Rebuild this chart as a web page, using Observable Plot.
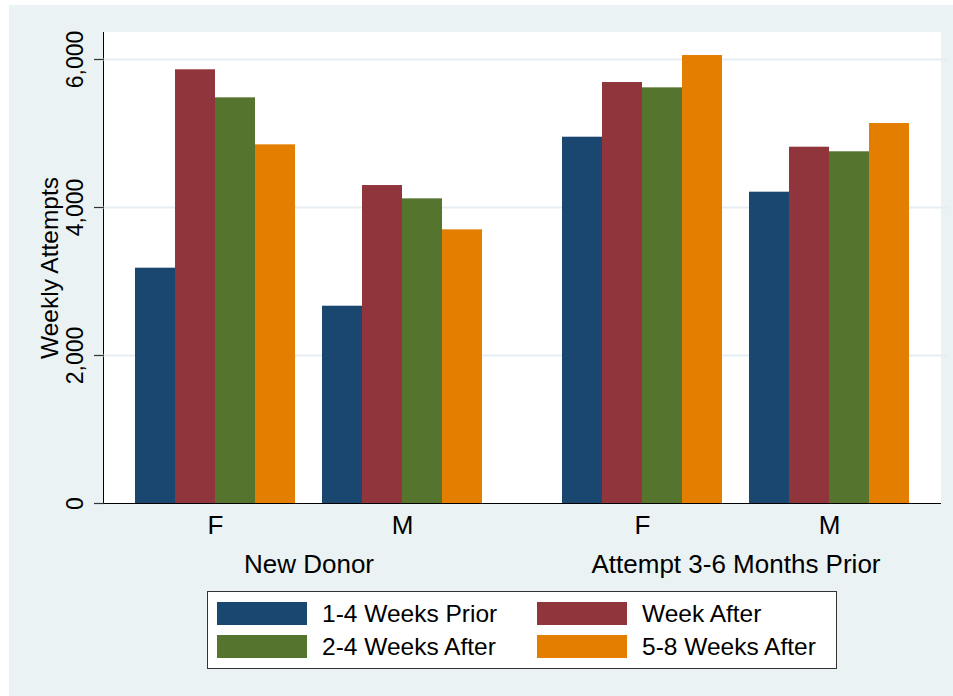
<!DOCTYPE html>
<html>
<head>
<meta charset="utf-8">
<script src="https://cdn.jsdelivr.net/npm/d3@7"></script>
<script src="https://cdn.jsdelivr.net/npm/@observablehq/plot@0.6"></script>
<style>
  body { margin: 0; background: #ffffff; font-family: "Liberation Sans", Arial, sans-serif; }
  #chart { position: relative; width: 953px; height: 696px; }
  #bg { position: absolute; left: 9px; top: 5px; right: 0; bottom: 0; background: #EAF2F3; }
  #plotbg { position: absolute; background: #ffffff; border-left: 1px solid #000; border-bottom: 1px solid #000; }
  #svgwrap { position: absolute; left: 0; top: 0; }
  #legend { position: absolute; background: #fff; border: 1.5px solid #333; box-sizing: border-box;
            display: grid; grid-template-columns: 90px 200px 90px auto; column-gap: 15px; row-gap: 10.5px;
            padding: 9.5px 9px; align-content: start; align-items: center; font-size: 24.5px; color: #000;
            white-space: nowrap; }
  .sw { width: 90px; height: 23px; }
</style>
</head>
<body>
<div id="chart">
  <div id="bg"></div>
  <div id="plotbg"></div>
  <div id="svgwrap"></div>
  <div id="legend"></div>
</div>
<script>
// ---- data ----
const groups = ["New Donor", "Attempt 3-6 Months Prior"];
const genders = ["F", "M"];
const series = ["1-4 Weeks Prior", "Week After", "2-4 Weeks After", "5-8 Weeks After"];
const seriesColors = ["#1A476F", "#90353B", "#55752F", "#E37E00"];
const newDonorF = [3180, 5861, 5482, 4847];
const newDonorM = [2666, 4297, 4117, 3698];
const priorF = [4950, 5689, 5617, 6054];
const priorM = [4207, 4815, 4753, 5135];
const yTicks = [0, 2000, 4000, 6000];
const gridTicks = [2000, 4000, 6000];
const yMax = 6365;
const yTitle = "Weekly Attempts";

const valueTable = [[newDonorF, newDonorM], [priorF, priorM]];
const rows = [];
groups.forEach((g, gi) => genders.forEach((s, si) => series.forEach((ser, k) => {
  rows.push({group: g, gender: s, series: ser, value: valueTable[gi][si][k]});
})));

// ---- layout ----
const W = 953, H = 585;
const mL = 104, mR = 13, mT = 32, mB = 82;
const facetGap = 18, groupGap = 27, outerGap = 31;
const plotW = W - mL - mR;                 // 836
const facetStep = (plotW + facetGap) / 2;  // 427
const facetW = facetStep - facetGap;       // 409
const bandW = (facetW - 2 * outerGap - groupGap) / 2; // 160
const xStep = bandW + groupGap;
const barW = bandW / series.length;

const plotbg = document.getElementById("plotbg");
plotbg.style.left = (mL - 1) + "px";
plotbg.style.top = mT + "px";
plotbg.style.width = plotW + 1 + "px";
plotbg.style.height = (H - mT - mB) + "px";

const font = "\"Liberation Sans\", Arial, sans-serif";

const bars = series.map((s, i) => Plot.barY(rows, {
  filter: d => d.series === s,
  fx: "group", x: "gender", y: "value", fill: "series",
  insetLeft: i * barW, insetRight: (series.length - 1 - i) * barW
}));

const chart = Plot.plot({
  width: W, height: H,
  marginLeft: mL, marginRight: mR, marginTop: mT, marginBottom: mB,
  style: {background: "transparent", fontFamily: font, color: "#000", overflow: "visible"},
  fx: {domain: groups, paddingInner: facetGap / facetStep, paddingOuter: 0, round: false, axis: null, label: null},
  x: {domain: genders, paddingInner: groupGap / xStep, paddingOuter: outerGap / xStep, round: false, axis: null, label: null},
  y: {domain: [0, yMax], axis: null},
  color: {domain: series, range: seriesColors},
  marks: [
    Plot.ruleY(gridTicks, {stroke: "#E6EEF1", strokeOpacity: 1, strokeWidth: 2, insetLeft: -facetGap / 2, insetRight: -facetGap / 2}),
    ...bars,
    Plot.axisY(yTicks, {
      tickFormat: d3.format(","), tickRotate: -90, tickSize: 10, tickPadding: 11.5,
      fontSize: 23, stroke: "#333", strokeWidth: 1.2, label: null
    }),
    Plot.axisY([], {
      tickSize: 0, fontSize: 24.5,
      label: yTitle, labelAnchor: "center", labelArrow: "none", labelOffset: 64
    }),
    Plot.axisX({tickSize: 0, tickPadding: 12.5, fontSize: 26, label: null}),
    Plot.axisFx({anchor: "bottom", tickSize: 0, tickPadding: 51.5, fontSize: 26, label: null})
  ]
});
document.getElementById("svgwrap").appendChild(chart);

// ---- legend ----
const color = chart.scale("color");
const legend = document.getElementById("legend");
legend.style.left = "207px";
legend.style.top = "591px";
legend.style.width = "630px";
legend.style.height = "78px";
series.forEach((s, i) => {
  const sw = document.createElement("div");
  sw.className = "sw";
  sw.style.background = color.apply(s);
  const tx = document.createElement("div");
  tx.textContent = s;
  tx.style.lineHeight = "23px";
  legend.appendChild(sw);
  legend.appendChild(tx);
});
</script>
</body>
</html>
